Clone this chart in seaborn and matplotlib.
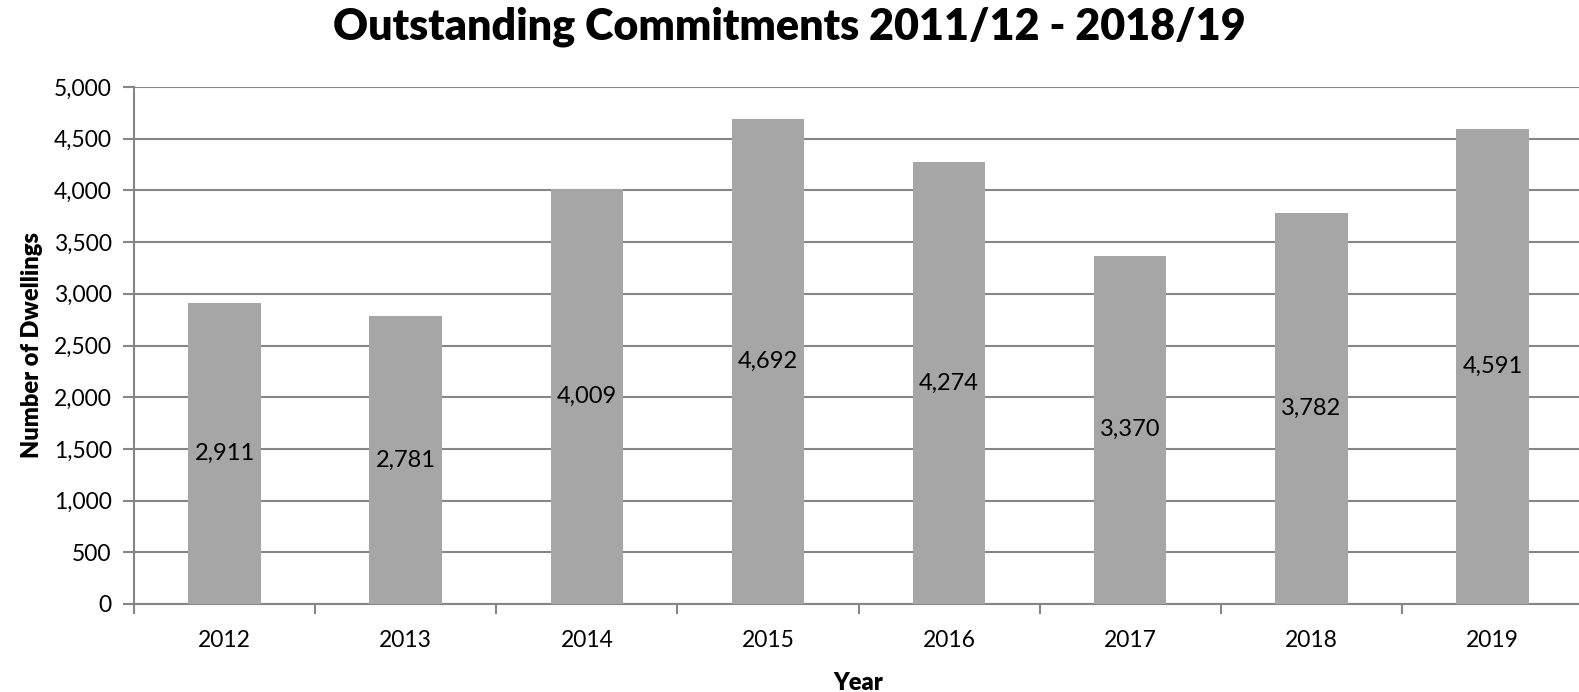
import matplotlib
matplotlib.use("Agg")
import matplotlib.pyplot as plt
import seaborn as sns
import pandas as pd

years = ["2012", "2013", "2014", "2015", "2016", "2017", "2018", "2019"]
dwellings = [2911, 2781, 4009, 4692, 4274, 3370, 3782, 4591]
y_ticks = [0, 500, 1000, 1500, 2000, 2500, 3000, 3500, 4000, 4500, 5000]
title = "Outstanding Commitments 2011/12 - 2018/19"

sns.set_theme(style="white")
plt.rcParams['font.family'] = ['Lato', 'DejaVu Sans']
plt.rcParams['text.color'] = 'black'

df = pd.DataFrame({"Year": years, "Dwellings": dwellings})

fig = plt.figure(figsize=(15.79, 6.92), dpi=100)
ax = fig.add_axes([134/1579, 1-604/692, (1583-134)/1579, (604-87)/692])

grid_c = "#868686"
sns.barplot(data=df, x="Year", y="Dwellings", color="#A6A6A6", width=0.4,
            saturation=1, ax=ax, zorder=3, edgecolor="none")

ax.set_ylim(0, 5000)
ax.set_xlim(-0.5, len(years) - 0.5)
ax.set_yticks(y_ticks)
ax.set_yticklabels([f"{v:,}" for v in y_ticks], fontsize=16.5, color="black")
ax.set_xticks(range(len(years)))
ax.set_xticklabels(years, fontsize=16.5, color="black")
ax.yaxis.grid(True, color=grid_c, linewidth=1.5, zorder=0)
ax.set_axisbelow(True)

for s in ["top", "right"]:
    ax.spines[s].set_visible(False)
for s in ["left", "bottom"]:
    ax.spines[s].set_color(grid_c)
    ax.spines[s].set_linewidth(1.5)

ax.tick_params(axis="y", which="major", length=8, width=1.5, color=grid_c, left=True, pad=8)
ax.tick_params(axis="x", which="major", length=0, pad=19)
ax.set_xticks([i - 0.5 for i in range(len(years) + 1)], minor=True)
ax.tick_params(axis="x", which="minor", length=7, width=1.5, color=grid_c, bottom=True)

for i, v in enumerate(dwellings):
    ax.text(i, v / 2, f"{v:,}", ha="center", va="center", fontsize=17, color="black", zorder=5)

ax.set_ylabel("Number of Dwellings", fontsize=17, fontweight="heavy", color="black", labelpad=8)
ax.set_xlabel("Year", fontsize=17, fontweight="heavy", color="black", labelpad=15)
fig.suptitle(title, fontsize=31, fontweight="heavy", color="black", y=0.99)

fig.savefig("out.png", dpi=100)
